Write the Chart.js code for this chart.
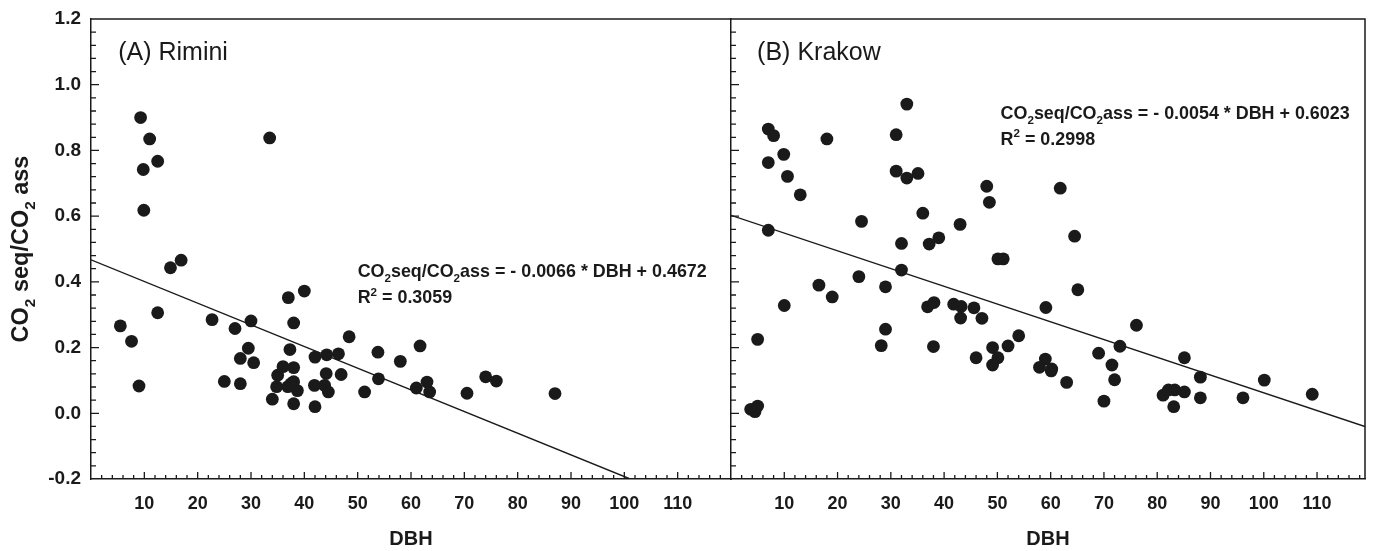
<!DOCTYPE html>
<html>
<head>
<meta charset="utf-8">
<script src="https://cdn.jsdelivr.net/npm/chart.js@4/dist/chart.umd.min.js"></script>
<style>
  html, body { margin: 0; padding: 0; background: #fff; }
  #wrap { position: relative; width: 1376px; height: 551px; overflow: hidden; }
  #left { position: absolute; left: 0; top: 0; }
  #right { position: absolute; left: 721px; top: 0; }
</style>
</head>
<body>
<div id="wrap">
  <canvas id="left" width="732" height="551"></canvas>
  <canvas id="right" width="655" height="551"></canvas>
</div>
<script>
// (A) Rimini: DBH and CO2seq/CO2ass per tree
const rimDbh = [9.3, 11.0, 12.5, 9.8, 9.9, 33.5, 14.9, 16.9, 12.5, 5.5, 7.6, 9.0,
  22.7, 27.0, 30.0, 29.5, 28.0, 30.5, 25.0, 28.0, 37.0, 40.0, 38.0, 37.3, 36.0, 38.0,
  35.0, 38.0, 34.8, 36.9, 38.7, 34.0, 38.0, 42.0, 42.0, 44.2, 46.4, 48.4, 44.1, 46.9,
  41.9, 43.8, 44.5, 51.3, 53.8, 53.9, 58.0, 61.0, 61.7, 63.0, 63.5, 70.5, 74.0, 76.0,
  87.0, 37.5];
const rimRatio = [0.900, 0.835, 0.767, 0.742, 0.618, 0.838, 0.443, 0.466, 0.306, 0.266, 0.219, 0.083,
  0.285, 0.258, 0.281, 0.198, 0.167, 0.154, 0.097, 0.090, 0.352, 0.372, 0.275, 0.194, 0.142, 0.139,
  0.116, 0.096, 0.081, 0.081, 0.069, 0.043, 0.029, 0.020, 0.171, 0.178, 0.181, 0.233, 0.121, 0.118,
  0.085, 0.085, 0.065, 0.065, 0.186, 0.105, 0.158, 0.077, 0.205, 0.095, 0.065, 0.061, 0.111, 0.098,
  0.060, 0.090];

// (B) Krakow
const krkDbh = [33.0, 7.0, 8.0, 18.0, 31.0, 9.9, 7.0, 10.6, 31.0, 33.0, 35.1, 13.0, 48.0, 48.5,
  61.8, 36.0, 24.5, 43.0, 7.0, 32.0, 37.2, 39.0, 50.1, 51.1, 32.0, 24.0, 16.5, 29.0, 19.0, 10.0,
  36.9, 38.1, 41.8, 43.2, 43.1, 45.6, 47.1, 59.1, 5.0, 29.0, 28.2, 38.0, 54.0, 52.0, 49.1, 46.0,
  50.1, 49.1, 59.0, 57.9, 60.1, 3.7, 4.5, 5.0, 64.5, 65.1, 76.1, 73.0, 69.0, 71.5, 72.0, 63.0,
  70.0, 85.1, 88.1, 100.1, 109.1, 81.1, 82.1, 83.3, 85.1, 83.1, 88.1, 96.1, 60.2];
const krkRatio = [0.941, 0.865, 0.845, 0.835, 0.848, 0.788, 0.763, 0.721, 0.737, 0.716, 0.730, 0.665, 0.691, 0.642,
  0.685, 0.609, 0.584, 0.575, 0.557, 0.517, 0.515, 0.534, 0.470, 0.470, 0.436, 0.416, 0.390, 0.385, 0.354, 0.328,
  0.324, 0.337, 0.332, 0.325, 0.290, 0.321, 0.289, 0.322, 0.225, 0.256, 0.206, 0.203, 0.236, 0.205, 0.200, 0.169,
  0.169, 0.147, 0.165, 0.140, 0.129, 0.012, 0.005, 0.022, 0.539, 0.376, 0.268, 0.204, 0.183, 0.147, 0.102, 0.094,
  0.037, 0.169, 0.110, 0.101, 0.058, 0.055, 0.071, 0.071, 0.065, 0.020, 0.047, 0.047, 0.135];

// regression line end points
const rimLineX = [0, 101.1];
const rimLineY = [0.4672, -0.2];
const krkLineX = [0, 119];
const krkLineY = [0.6023, -0.0403];

const xTickLabels = [10, 20, 30, 40, 50, 60, 70, 80, 90, 100, 110];
const yTickLabels = ['-0.2', '0.0', '0.2', '0.4', '0.6', '0.8', '1.0', '1.2'];

const FONT = "'Liberation Sans', Arial, Helvetica, sans-serif";
const INK = '#1a1a1a';

function toPoints(xs, ys) {
  return xs.map((x, i) => ({ x: x, y: ys[i] }));
}

// split "CO_{2}seq" style strings into plain / sub / sup parts
function parseRich(str) {
  return str.split(/(_\{[^}]*\}|\^\{[^}]*\})/).filter(s => s).map(s => {
    if (s.startsWith('_{')) return { t: s.slice(2, -1), sub: true };
    if (s.startsWith('^{')) return { t: s.slice(2, -1), sup: true };
    return { t: s };
  });
}

function richWidth(ctx, parts, size, weight) {
  let w = 0;
  for (const p of parts) {
    const fs = (p.sub || p.sup) ? size * 0.65 : size;
    ctx.font = `${weight} ${fs}px ${FONT}`;
    w += ctx.measureText(p.t).width;
  }
  return w;
}

function drawRich(ctx, str, x, y, size, weight) {
  const parts = parseRich(str);
  let cx = x;
  for (const p of parts) {
    let fs = size, dy = 0;
    if (p.sub) { fs = size * 0.65; dy = size * 0.28; }
    if (p.sup) { fs = size * 0.65; dy = -size * 0.42; }
    ctx.font = `${weight} ${fs}px ${FONT}`;
    ctx.fillText(p.t, cx, y + dy);
    cx += ctx.measureText(p.t).width;
  }
}

const framePlugin = {
  id: 'frame',
  afterDraw(chart, args, opts) {
    const { ctx, chartArea: a, scales: { x, y } } = chart;
    ctx.save();
    ctx.strokeStyle = INK;
    ctx.lineWidth = 1.5;
    ctx.beginPath();
    ctx.moveTo(a.left, a.top);
    ctx.lineTo(a.right, a.top);
    if (opts.rightBorder) {
      ctx.lineTo(a.right, a.bottom);
    }
    ctx.stroke();

    // tick marks pointing into the plot
    ctx.lineWidth = 1.3;
    ctx.beginPath();
    for (let i = 1; i * 2 < x.max; i++) {
      const px = x.getPixelForValue(i * 2);
      const len = (i % 5 === 0) ? 7 : 4;
      ctx.moveTo(px, a.bottom);
      ctx.lineTo(px, a.bottom - len);
    }
    for (let i = 1; i < 35; i++) {
      const py = y.getPixelForValue(-0.2 + i * 0.04);
      const len = (i % 5 === 0) ? 8 : 5;
      ctx.moveTo(a.left, py);
      ctx.lineTo(a.left + len, py);
    }
    ctx.stroke();

    // texts
    ctx.fillStyle = INK;
    ctx.textBaseline = 'alphabetic';
    ctx.textAlign = 'left';
    for (const t of opts.texts || []) {
      drawRich(ctx, t.text, x.getPixelForValue(t.x), y.getPixelForValue(t.y), t.size, t.weight);
    }

    if (opts.yTitle) {
      const size = 23.5;
      const w = richWidth(ctx, parseRich(opts.yTitle), size, 'bold');
      ctx.translate(28, (a.top + a.bottom) / 2);
      ctx.rotate(-Math.PI / 2);
      drawRich(ctx, opts.yTitle, -w / 2, 0, size, 'bold');
    }
    ctx.restore();
  }
};

function makePanel(canvasId, xs, ys, lineX, lineY, xMax, showYLabels, frameOpts, padding) {
  return new Chart(document.getElementById(canvasId), {
    type: 'scatter',
    data: {
      datasets: [
        {
          data: toPoints(xs, ys),
          pointRadius: 6.4,
          pointBackgroundColor: INK,
          pointBorderWidth: 0,
          pointBorderColor: INK
        },
        {
          data: toPoints(lineX, lineY),
          showLine: true,
          pointRadius: 0,
          borderColor: INK,
          borderWidth: 1.4
        }
      ]
    },
    options: {
      responsive: false,
      animation: false,
      events: [],
      layout: { padding: padding, autoPadding: false },
      plugins: {
        legend: { display: false },
        tooltip: { enabled: false },
        frame: frameOpts
      },
      scales: {
        x: {
          type: 'linear',
          min: 0,
          max: xMax,
          grid: { display: false, drawTicks: false },
          border: { display: true, color: INK, width: 1.5 },
          ticks: {
            stepSize: 10,
            padding: 14,
            color: INK,
            maxRotation: 0,
            autoSkip: false,
            font: { family: FONT, size: 18, weight: 'bold' },
            callback: v => xTickLabels.includes(v) ? String(v) : ''
          },
          title: {
            display: true,
            text: 'DBH',
            color: INK,
            padding: { top: 0, bottom: 0 },
            font: { family: FONT, size: 20, weight: 'bold' }
          },
          afterFit: s => {
            s.height = 72;
            s.paddingLeft = 0;
            s.paddingRight = 0;
          }
        },
        y: {
          type: 'linear',
          min: -0.2,
          max: 1.2,
          grid: { display: false, drawTicks: false },
          border: { display: true, color: INK, width: 1.5 },
          ticks: {
            display: showYLabels,
            stepSize: 0.2,
            padding: 10,
            color: INK,
            font: { family: FONT, size: 19, weight: 'bold' },
            callback: v => {
              const s = Math.abs(v) < 1e-9 ? '0.0' : v.toFixed(1);
              return yTickLabels.includes(s) ? s : '';
            }
          },
          afterFit: s => {
            s.width = showYLabels ? 91 : 0;
            s.paddingTop = 0;
            s.paddingBottom = 0;
          }
        }
      }
    },
    plugins: [framePlugin]
  });
}

makePanel('left', rimDbh, rimRatio, rimLineX, rimLineY, 120, true, {
  rightBorder: false,
  yTitle: 'CO_{2} seq/CO_{2} ass',
  texts: [
    { text: '(A) Rimini', x: 5.1, y: 1.075, size: 25, weight: 'normal' },
    { text: 'CO_{2}seq/CO_{2}ass = - 0.0066 * DBH + 0.4672', x: 50, y: 0.414, size: 17.9, weight: 'bold' },
    { text: 'R^{2} = 0.3059', x: 50, y: 0.335, size: 17.9, weight: 'bold' }
  ]
}, { top: 19, right: 1, left: 0, bottom: 0 });

makePanel('right', krkDbh, krkRatio, krkLineX, krkLineY, 119, false, {
  rightBorder: true,
  texts: [
    { text: '(B) Krakow', x: 4.9, y: 1.075, size: 25, weight: 'normal' },
    { text: 'CO_{2}seq/CO_{2}ass = - 0.0054 * DBH + 0.6023', x: 50.6, y: 0.896, size: 17.9, weight: 'bold' },
    { text: 'R^{2} = 0.2998', x: 50.6, y: 0.817, size: 17.9, weight: 'bold' }
  ]
}, { top: 19, right: 11, left: 10, bottom: 0 });
</script>
</body>
</html>
